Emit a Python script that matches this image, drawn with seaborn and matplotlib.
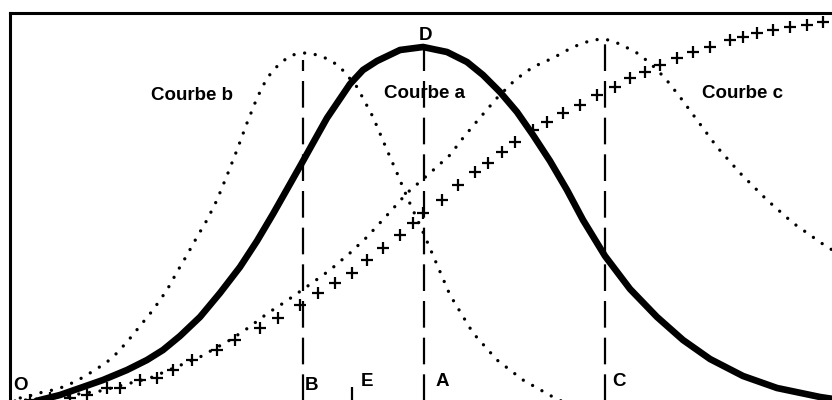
import numpy as np
import pandas as pd
import matplotlib
matplotlib.use("Agg")
import matplotlib.pyplot as plt
import seaborn as sns

# Courbe a (thick bell curve)
a_x = [15, 30, 50, 73, 93, 117, 137, 153, 170, 190, 210, 230, 247, 263, 280, 293, 303, 317, 340, 353,
       367, 390, 413, 437, 457, 473, 490, 507, 523, 540, 557, 573, 595, 620, 647, 673, 700, 733, 767,
       810, 830]
a_y = [6, 10, 15, 23, 30, 40, 50, 60, 74, 93, 117, 143, 169, 196, 226, 249, 267, 292, 326, 340,
       349, 360, 363, 358, 348, 335, 318, 298, 275, 249, 220, 190, 154, 121, 93, 70, 51, 34, 22,
       13, 10]

# Courbe b (dotted, narrow, peak at B)
b_x = [0, 10, 23, 33, 43, 53, 62, 70, 80, 88, 97, 105, 117, 130, 143, 157, 167, 177, 187, 197, 207, 218,
       227, 237, 247, 257, 270, 282, 295, 308, 320, 330, 347, 363, 377, 387, 397, 413, 425, 440, 463,
       487, 513, 543, 570]
b_y = [9, 12, 15, 18, 20, 23, 27, 31, 37, 42, 48, 55, 68, 84, 100, 120, 138, 155, 173, 190, 210, 237,
       260, 287, 312, 332, 347, 355, 357, 355, 350, 343, 323, 293, 260, 237, 213, 178, 150, 115, 77,
       50, 30, 13, 0]

# Courbe c (dotted, wide, peak at C)
c_x = [5, 40, 90, 140, 190, 220, 238, 258, 275, 302, 320, 340, 357, 380, 397, 420, 440, 453, 468, 487,
       505, 523, 543, 563, 582, 595, 610, 627, 640, 655, 670, 687, 707, 730, 757, 783, 817, 835]
c_y = [9, 12, 19, 32, 53, 70, 82, 97, 108, 127, 140, 157, 173, 198, 217, 237, 255, 272, 290, 312,
       330, 343, 352, 363, 370, 371, 366, 357, 347, 332, 313, 290, 263, 237, 210, 187, 163, 153]

# cumulative curve drawn with + signs
p_x = [20, 40, 60, 77, 97, 110, 130, 147, 163, 182, 207, 225, 250, 268, 290, 308, 325, 342, 357, 373,
       390, 403, 413, 432, 448, 465, 478, 492, 505, 523, 537, 553, 570, 587, 605, 620, 635, 650, 667,
       683, 700, 720, 733, 747, 763, 780, 797, 813]
p_y = [10, 12, 12, 15, 22, 22, 30, 32, 40, 50, 60, 70, 82, 92, 105, 117, 127, 137, 150, 162,
       175, 187, 197, 210, 225, 238, 247, 258, 268, 280, 288, 297, 305, 315, 323, 332, 338, 345, 352,
       358, 363, 370, 373, 377, 380, 383, 385, 388]

# dashed verticals at B, A, C and the short tick at E
guide_x = [293, 414, 595]
guide_top = [350, 367, 372]
e_x = 342
e_top = 23

sns.set_style("white")
plt.rcParams['font.family'] = ['Liberation Sans', 'DejaVu Sans']

fig = plt.figure(figsize=(8.32, 4.0), dpi=100)
ax = fig.add_axes([10 / 832, -10 / 400, 835 / 832, 397 / 400])

dots = dict(sort=False, estimator=None, color='black', lw=2.4,
            linestyle=(0, (0.01, 3.2)), dash_capstyle='round')

sns.lineplot(x=a_x, y=a_y, ax=ax, sort=False, estimator=None, color='black', lw=4.8,
             solid_capstyle='round', solid_joinstyle='round')
sns.lineplot(x=b_x, y=b_y, ax=ax, **dots)
sns.lineplot(x=c_x, y=c_y, ax=ax, **dots)
sns.scatterplot(x=p_x, y=p_y, ax=ax, marker='+', s=65, color='black', linewidth=1.6)

ax.vlines(guide_x, 0, guide_top, colors='black', lw=1.6, linestyles=(0, (12, 4.5)))
ax.vlines([e_x], 0, [e_top], colors='black', lw=1.6)

txt = dict(fontsize=13.5, fontweight='bold', ha='center', va='center', color='black')
ax.text(182, 315, 'Courbe b', **txt)
ax.text(415, 316, 'Courbe a', **txt)
ax.text(732, 317, 'Courbe c', **txt)
ax.text(415, 375, 'D', **txt)
ax.text(11, 25, 'O', **txt)
ax.text(301, 25, 'B', **txt)
ax.text(357, 28, 'E', **txt)
ax.text(432, 28, 'A', **txt)
ax.text(609, 28, 'C', **txt)

ax.set_xlim(0, 835)
ax.set_ylim(0, 397)
ax.set_xticks([])
ax.set_yticks([])
for s in ax.spines.values():
    s.set_linewidth(2.2)
    s.set_color('black')

fig.savefig('out.png', dpi=100, facecolor='white')
